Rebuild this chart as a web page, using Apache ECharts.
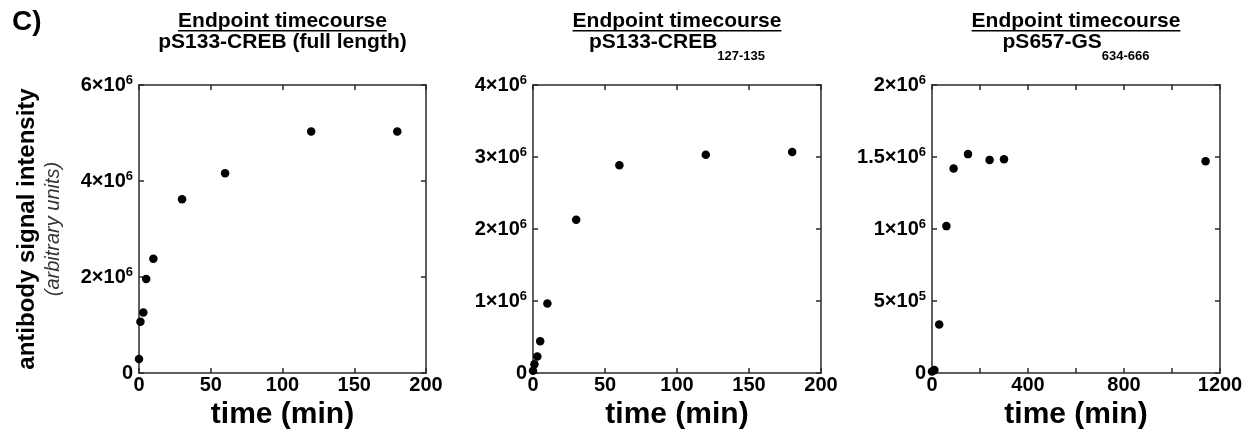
<!DOCTYPE html>
<html>
<head>
<meta charset="utf-8">
<script src="https://cdn.jsdelivr.net/npm/echarts@6/dist/echarts.min.js"></script>
<style>
html,body{margin:0;padding:0;background:#fff;}
#chart{width:1255px;height:436px;}
</style>
</head>
<body>
<div id="chart"></div>
<script>
// ---- data ----
const panelLabel = 'C)';
const titleTop = 'Endpoint timecourse';
const titleMain = ['pS133-CREB (full length)', 'pS133-CREB', 'pS657-GS'];
const titleSub = ['', '127-135', '634-666'];
const xAxisTitle = 'time (min)';
const yAxisTitle = 'antibody signal intensity';
const yAxisSubtitle = '(arbitrary units)';

const times1 = [0, 1, 3, 5, 10, 30, 60, 120, 180];
const signal1 = [0.29e6, 1.07e6, 1.26e6, 1.96e6, 2.38e6, 3.62e6, 4.16e6, 5.03e6, 5.03e6];

const times2 = [0, 1, 3, 5, 10, 30, 60, 120, 180];
const signal2 = [0.03e6, 0.12e6, 0.23e6, 0.44e6, 0.965e6, 2.13e6, 2.885e6, 3.03e6, 3.07e6];

const times3 = [0, 10, 30, 60, 90, 150, 240, 300, 1140];
const signal3 = [0.01e6, 0.02e6, 0.336e6, 1.02e6, 1.42e6, 1.52e6, 1.48e6, 1.485e6, 1.47e6];

const xMax = [200, 200, 1200];
const xInterval = [50, 50, 200];
const xLabelStep = [50, 50, 400];
const yMax = [6e6, 4e6, 2e6];
const yInterval = [2e6, 1e6, 5e5];

// ---- layout ----
const FONT = '"Liberation Sans", Arial, Helvetica, sans-serif';
const grids = [
  {left: 139, top: 85, width: 287, height: 288},
  {left: 533, top: 85, width: 288, height: 288},
  {left: 932, top: 85, width: 288, height: 288}
];
const lineColor = '#2a2a2a';
const series = [[times1, signal1], [times2, signal2], [times3, signal3]];

function sciLabel(v) {
  if (v === 0) return '{n|0}';
  const e = Math.floor(Math.log10(v) + 1e-9);
  const m = Math.round(v / Math.pow(10, e) * 100) / 100;
  return '{n|' + m + '×10}{e|' + e + '}';
}

const xAxes = [], yAxes = [], ser = [], titles = [], graphics = [];
const cvs = document.createElement('canvas').getContext('2d');
cvs.font = 'bold 21px ' + FONT;
const ulW = cvs.measureText(titleTop).width;

grids.forEach((g, i) => {
  const axisLine = {show: true, onZero: false, lineStyle: {color: lineColor, width: 1.5}};
  const tick = {show: true, inside: true, length: 5, lineStyle: {color: lineColor, width: 1.5}};
  xAxes.push({
    type: 'value', gridIndex: i, min: 0, max: xMax[i], interval: xInterval[i],
    position: 'bottom', axisLine, axisTick: tick, splitLine: {show: false},
    axisLabel: {
      margin: 2, color: '#000', fontFamily: FONT, fontWeight: 'bold', fontSize: 20,
      formatter: v => (v % xLabelStep[i] === 0 ? String(v) : '')
    },
    name: xAxisTitle, nameLocation: 'middle', nameGap: 26,
    nameTextStyle: {color: '#000', fontFamily: FONT, fontWeight: 'bold', fontSize: 30}
  });
  xAxes.push({
    type: 'value', gridIndex: i, min: 0, max: xMax[i], interval: xInterval[i],
    position: 'top', axisLine, axisTick: tick, splitLine: {show: false},
    axisLabel: {show: false}
  });
  const yPrimary = {
    type: 'value', gridIndex: i, min: 0, max: yMax[i], interval: yInterval[i],
    position: 'left', axisLine, axisTick: tick, splitLine: {show: false},
    axisLabel: {
      margin: 6, color: '#000', fontFamily: FONT, fontWeight: 'bold',
      formatter: sciLabel,
      rich: {
        n: {fontFamily: FONT, fontWeight: 'bold', fontSize: 20, lineHeight: 22, color: '#000'},
        e: {fontFamily: FONT, fontWeight: 'bold', fontSize: 13, lineHeight: 13, verticalAlign: 'top', color: '#000'}
      }
    }
  };
  if (i === 0) {
    yPrimary.name = '{a|' + yAxisTitle + '}\n{b|' + yAxisSubtitle + '}';
    yPrimary.nameLocation = 'middle';
    yPrimary.nameRotate = 90;
    yPrimary.nameGap = 74;
    yPrimary.nameTextStyle = {
      align: 'center',
      rich: {
        a: {fontFamily: FONT, fontWeight: 'bold', fontSize: 24, lineHeight: 28, color: '#000', align: 'center'},
        b: {fontFamily: FONT, fontStyle: 'italic', fontWeight: 'normal', fontSize: 20, lineHeight: 24, color: '#333', align: 'center'}
      }
    };
  }
  yAxes.push(yPrimary);
  yAxes.push({
    type: 'value', gridIndex: i, min: 0, max: yMax[i], interval: yInterval[i],
    position: 'right', axisLine, axisTick: tick, splitLine: {show: false},
    axisLabel: {show: false}
  });
  ser.push({
    type: 'scatter', xAxisIndex: 2 * i, yAxisIndex: 2 * i,
    symbol: 'circle', symbolSize: 8.5, itemStyle: {color: '#000', opacity: 1},
    data: series[i][0].map((t, k) => [t, series[i][1][k]])
  });
  const cx = g.left + g.width / 2;
  let txt = '{t|' + titleTop + '}\n{m|' + titleMain[i] + '}';
  if (titleSub[i]) txt += '{s|' + titleSub[i] + '}';
  titles.push({
    text: txt, left: cx, top: 11, textAlign: 'center', padding: 0,
    textStyle: {
      rich: {
        t: {fontFamily: FONT, fontWeight: 'bold', fontSize: 21, lineHeight: 21, color: '#000'},
        m: {fontFamily: FONT, fontWeight: 'bold', fontSize: 21, lineHeight: 22, color: '#000', verticalAlign: 'top'},
        s: {fontFamily: FONT, fontWeight: 'bold', fontSize: 13, lineHeight: 31, color: '#000', verticalAlign: 'bottom'}
      }
    }
  });
  graphics.push({
    type: 'rect', shape: {x: cx - ulW / 2, y: 30, width: ulW, height: 1.5},
    style: {fill: '#000'}, silent: true
  });
});

graphics.push({
  type: 'text', left: 12, top: 8,
  style: {text: panelLabel, font: 'bold 28px ' + FONT, fill: '#000'}
});

const chart = echarts.init(document.getElementById('chart'), null, {renderer: 'canvas'});
chart.setOption({
  animation: false,
  backgroundColor: '#fff',
  title: titles,
  grid: grids,
  xAxis: xAxes,
  yAxis: yAxes,
  series: ser,
  graphic: graphics
});
</script>
</body>
</html>
